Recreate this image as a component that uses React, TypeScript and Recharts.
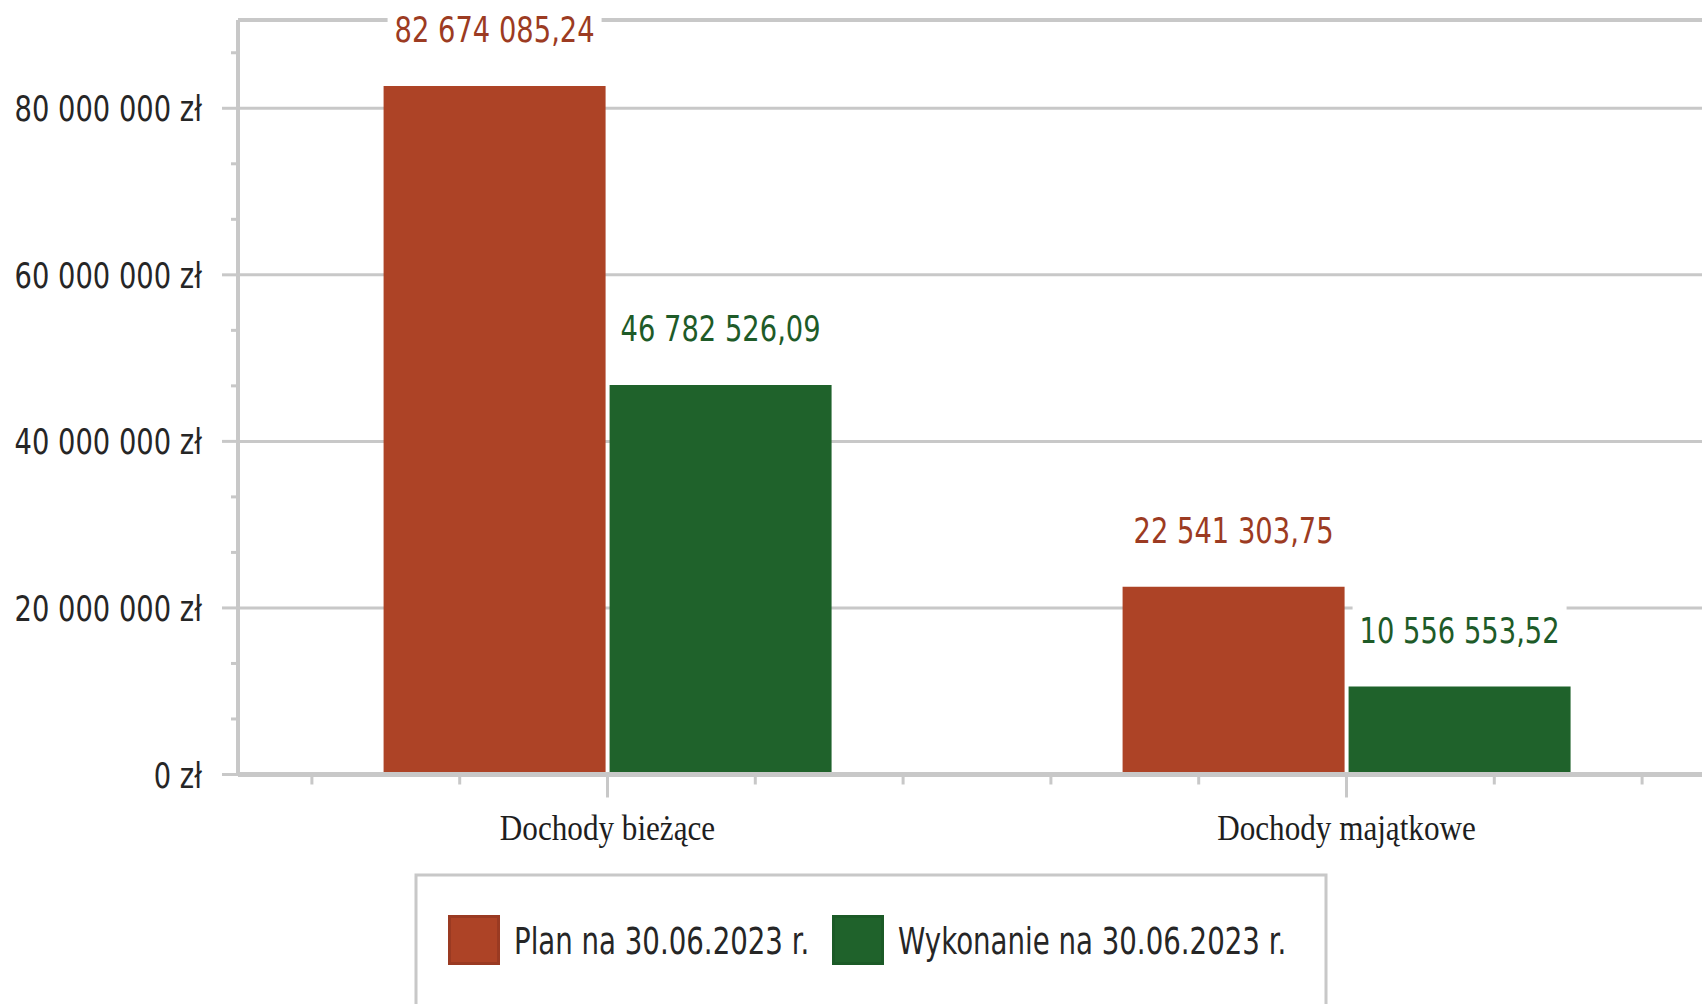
import React from "react";
import { BarChart, Bar, XAxis, YAxis, CartesianGrid, ReferenceLine, Legend, LabelList } from "recharts";

// dane
const categories = ["Dochody bieżące", "Dochody majątkowe"];
const planValues = [82674085.24, 22541303.75];
const wykonanieValues = [46782526.09, 10556553.52];
const seriesNames = ["Plan na 30.06.2023 r.", "Wykonanie na 30.06.2023 r."];
const majorTicks = [0, 20000000, 40000000, 60000000, 80000000];
const minorTicks = [6666667, 13333333, 26666667, 33333333, 46666667, 53333333, 66666667, 73333333, 86666667];
const axisMax = 90600000;

const PLAN_FILL = "#ad4326";
const PLAN_DARK = "#9a3a22";
const WYK_FILL = "#1f622b";
const WYK_DARK = "#1b5a27";
const GRID = "#c8c8c8";
const SANS = "'DejaVu Sans', Verdana, sans-serif";
const SERIF = "'Liberation Serif', 'Times New Roman', serif";

const data = categories.map((name, i) => ({
  name,
  plan: planValues[i],
  wykonanie: wykonanieValues[i],
}));

const formatPl = (v: number, decimals: number) => {
  const [intPart, dec] = v.toFixed(decimals).split(".");
  const grouped = intPart.replace(/\B(?=(\d{3})+(?!\d))/g, " ");
  return dec ? `${grouped},${dec}` : grouped;
};

// tekst ściśnięty w poziomie jak w oryginale
const SText = ({ x, y, sx = 0.76, size = 36, family = SANS, fill = "#262626", anchor = "middle", children }: any) => (
  <text
    transform={`translate(${x},${y}) scale(${sx},1)`}
    textAnchor={anchor}
    fontFamily={family}
    fontSize={size}
    fill={fill}
  >
    {children}
  </text>
);

const YTick = (props: any) => {
  const { x, y, payload } = props;
  const major = majorTicks.includes(payload.value);
  return (
    <g>
      <line x1={x - (major ? 16 : 7)} x2={x} y1={y} y2={y} stroke={GRID} strokeWidth={3} />
      {major && (
        <SText x={x - 36} y={y + 13} anchor="end">
          {`${formatPl(payload.value, 0)} zł`}
        </SText>
      )}
    </g>
  );
};

const XTick = (props: any) => {
  const { x, y, payload, width, visibleTicksCount } = props;
  const band = payload && payload.offset ? payload.offset * 2 : width / (visibleTicksCount || categories.length);
  return (
    <g>
      {[-0.4, -0.2, 0.2, 0.4].map((f) => (
        <line key={f} x1={x + f * band} x2={x + f * band} y1={y + 2} y2={y + 10} stroke={GRID} strokeWidth={3} />
      ))}
      <line x1={x} x2={x} y1={y} y2={y + 23} stroke={GRID} strokeWidth={3} />
      <SText x={x} y={y + 65} sx={0.89} size={35} family={SERIF} fill="#1e1e1e">
        {payload.value}
      </SText>
    </g>
  );
};

const makeLabel = (color: string) => (props: any) => {
  const { x, y, width, value } = props;
  const cx = x + width / 2;
  const cy = y - 57;
  return (
    <g>
      <rect x={cx - 107} y={cy - 24} width={214} height={48} fill="#fff" />
      <SText x={cx} y={cy + 13} fill={color}>
        {formatPl(value, 2)}
      </SText>
    </g>
  );
};

const LegendBox = () => {
  const fills = [PLAN_FILL, WYK_FILL];
  const darks = [PLAN_DARK, WYK_DARK];
  const squareX = [34, 418];
  return (
    <svg width={915} height={140} style={{ display: "block" }}>
      <path d="M2,140 L2,2 L912,2 L912,140" fill="none" stroke={GRID} strokeWidth={3} />
      {seriesNames.map((n, i) => (
        <g key={n}>
          <rect x={squareX[i] + 1.5} y={43.5} width={49} height={47} fill={fills[i]} stroke={darks[i]} strokeWidth={3} />
          <SText x={squareX[i] + 66} y={80.5} sx={0.747} size={37} anchor="start">
            {n}
          </SText>
        </g>
      ))}
    </svg>
  );
};

const App = () => {
  const gridValues = majorTicks.filter((t) => t > 0);
  const allTicks = [...majorTicks, ...minorTicks].sort((a, b) => a - b);
  return (
    <div
      style={{
        position: "absolute",
        left: 0,
        top: 0,
        width: 1702,
        height: 1004,
        overflow: "hidden",
        background: "#fff",
      }}
    >
      <BarChart
        width={1716}
        height={1004}
        data={data}
        margin={{ top: 20, right: 0, bottom: 129.5, left: 0 }}
        barCategoryGap="19.7%"
        barGap={4}
      >
        <CartesianGrid vertical={false} stroke={GRID} strokeWidth={3} horizontalValues={gridValues} />
        <ReferenceLine y={axisMax} stroke={GRID} strokeWidth={4} />
        <XAxis
          dataKey="name"
          height={100}
          tickSize={0}
          tickMargin={0}
          tickLine={false}
          interval={0}
          axisLine={{ stroke: GRID, strokeWidth: 5 }}
          tick={<XTick />}
        />
        <YAxis
          width={238}
          domain={[0, axisMax]}
          ticks={allTicks}
          interval={0}
          tickSize={0}
          tickMargin={0}
          tickLine={false}
          axisLine={{ stroke: GRID, strokeWidth: 4 }}
          tick={<YTick />}
        />
        <Legend
          layout="horizontal"
          verticalAlign="middle"
          align="center"
          wrapperStyle={{ left: 414, top: 873, width: 915, height: 140 }}
          content={() => <LegendBox />}
        />
        <Bar dataKey="plan" name={seriesNames[0]} fill={PLAN_FILL} isAnimationActive={false}>
          <LabelList dataKey="plan" content={makeLabel("#9c3b22")} />
        </Bar>
        <Bar dataKey="wykonanie" name={seriesNames[1]} fill={WYK_FILL} isAnimationActive={false}>
          <LabelList dataKey="wykonanie" content={makeLabel("#1e5b28")} />
        </Bar>
      </BarChart>
    </div>
  );
};

export default App;
